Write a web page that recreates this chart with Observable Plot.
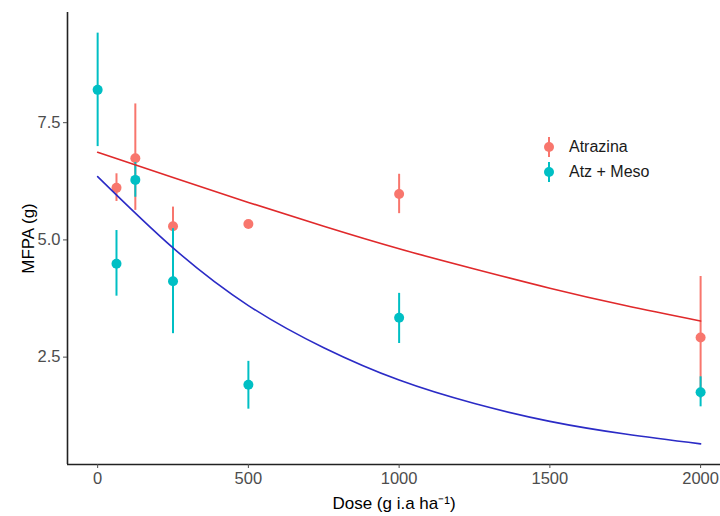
<!DOCTYPE html>
<html>
<head>
<meta charset="utf-8">
<script src="https://cdn.jsdelivr.net/npm/d3@7"></script>
<script src="https://cdn.jsdelivr.net/npm/@observablehq/plot@0.6"></script>
<style>
  html, body { margin: 0; padding: 0; background: #fff; }
  #wrap { position: relative; width: 720px; height: 516px; font-family: "Liberation Sans", Arial, sans-serif; }
  #legend { position: absolute; left: 541px; top: 134px; font-size: 16px; color: #1a1a1a; }
  #legend .row { display: flex; align-items: center; height: 25px; }
  #legend svg { margin-right: 12px; }
</style>
</head>
<body>
<div id="wrap"></div>
<script>
// ---- data ----
const doses = [0, 62.5, 125, 250, 500, 1000, 2000];
const atrazinaMean = [null, 6.11, 6.74, 5.29, 5.34, 5.98, 2.92];
const atrazinaLow  = [null, 5.82, 5.63, 4.88, 5.30, 5.56, 1.62];
const atrazinaHigh = [null, 6.41, 7.90, 5.70, 5.38, 6.40, 4.22];
const mesoMean = [8.20, 4.49, 6.28, 4.12, 1.91, 3.34, 1.75];
const mesoLow  = [6.99, 3.80, 5.91, 3.00, 1.39, 2.79, 1.44];
const mesoHigh = [9.41, 5.20, 6.65, 5.24, 2.41, 3.86, 2.08];

// fitted curves (read at regular doses)
const curveDose   = [0, 250, 500, 750, 1000, 1250, 1500, 1750, 2000];
const atrazinaFit = [6.87, 6.33, 5.80, 5.29, 4.81, 4.38, 3.97, 3.60, 3.27];
const mesoFit     = [6.35, 4.83, 3.60, 2.70, 2.01, 1.51, 1.13, 0.86, 0.65];

const groups = ["Atrazina", "Atz + Meso"];
const pointColors = ["#F8766D", "#00BFC4"];
const fitColors = ["#e0292b", "#2b2bc6"];

const xTicks = [0, 500, 1000, 1500, 2000];
const yTicks = [2.5, 5.0, 7.5];
const xDomain = [-100, 2066];
const yDomain = [0.21, 9.85];

// ---- build tables ----
const pts = [];
groups.forEach((g, gi) => {
  doses.forEach((d, i) => {
    const m = gi === 0 ? atrazinaMean[i] : mesoMean[i];
    if (m == null) return;
    pts.push({dose: d, g, m,
      lo: gi === 0 ? atrazinaLow[i] : mesoLow[i],
      hi: gi === 0 ? atrazinaHigh[i] : mesoHigh[i]});
  });
});
const fits = [];
curveDose.forEach((d, i) => {
  fits.push({dose: d, g: groups[0], v: atrazinaFit[i]});
  fits.push({dose: d, g: groups[1], v: mesoFit[i]});
});
const colorOf = g => pointColors[groups.indexOf(g)];
const fitOf = g => fitColors[groups.indexOf(g)];

const marks = [];
groups.forEach(g => {
  const sub = pts.filter(p => p.g === g);
  marks.push(Plot.ruleX(sub, {x: "dose", y1: "lo", y2: "hi", stroke: colorOf(g), strokeWidth: 2}));
  marks.push(Plot.dot(sub, {x: "dose", y: "m", fill: colorOf(g), r: 5, stroke: "none"}));
});

const chart = Plot.plot({
  width: 720,
  height: 516,
  marginLeft: 67,
  marginRight: 0,
  marginTop: 12,
  marginBottom: 52,
  style: {fontFamily: "Liberation Sans, Arial, sans-serif", background: "#fff"},
  x: {domain: xDomain},
  y: {domain: yDomain},
  marks: [
    ...marks,
    Plot.line(fits, {x: "dose", y: "v", z: "g", stroke: d => fitOf(d.g), strokeWidth: 1.6, curve: "natural"}),
    Plot.ruleX([xDomain[0]], {stroke: "#222", strokeWidth: 1.6}),
    Plot.ruleY([yDomain[0]], {stroke: "#222", strokeWidth: 1.6}),
    Plot.axisX({ticks: xTicks, tickFormat: d => String(d), tickSize: 4, tickPadding: 4, fontSize: 16.5, color: "#4d4d4d",
      label: "Dose (g i.a ha⁻¹)", labelArrow: "none", labelAnchor: "center", labelOffset: 44}),
    Plot.axisY({ticks: yTicks, tickFormat: d => d.toFixed(1), tickSize: 4, tickPadding: 3, fontSize: 16.5, color: "#4d4d4d",
      label: "MFPA (g)", labelArrow: "none", labelAnchor: "center", labelOffset: 46}),
  ]
});
chart.querySelectorAll("[aria-label='x-axis label'] text, [aria-label='y-axis label'] text").forEach(t => {
  t.setAttribute("fill", "#000"); t.style.fontSize = "17px";
  t.textContent = t.textContent.replace(/\s*[→↑←↓]/g, "");
});
document.getElementById("wrap").appendChild(chart);

// legend
const leg = document.createElement("div");
leg.id = "legend";
groups.forEach((g, i) => {
  const row = document.createElement("div");
  row.className = "row";
  row.innerHTML = `<svg width="16" height="22"><line x1="8" x2="8" y1="1" y2="21" stroke="${pointColors[i]}" stroke-width="2"/><circle cx="8" cy="11" r="5" fill="${pointColors[i]}"/></svg><span>${g}</span>`;
  leg.appendChild(row);
});
document.getElementById("wrap").appendChild(leg);
</script>
</body>
</html>
